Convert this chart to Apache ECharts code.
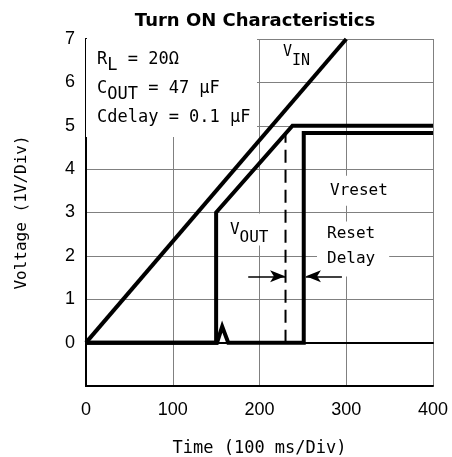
<!DOCTYPE html>
<html>
<head>
<meta charset="utf-8">
<script src="https://cdn.jsdelivr.net/npm/echarts@6/dist/echarts.min.js"></script>
<style>
html,body{margin:0;padding:0;background:#fff;}
#chart{width:452px;height:457px;}
</style>
</head>
<body>
<div id="chart"></div>
<script>
// ---- data ----
const xTicks = [0, 100, 200, 300, 400];
const yTicks = [0, 1, 2, 3, 4, 5, 6, 7];
const vinPts = [[0, 0], [300, 7]];
const voutPts = [[0, 0], [150, 0], [150, 3], [238, 5], [400, 5]];
const vresetPts = [[0, 0], [151, 0], [157, 0.37], [164, 0], [251, 0], [251, 4.83], [400, 4.83]];
const delayMarkerPts = [[230, 0], [230, 4.8]];
const arrowLeft = [[187, 1.53], [229.5, 1.53]];
const arrowRight = [[295, 1.53], [253.5, 1.53]];

const MONO = '"DejaVu Sans Mono", monospace';
const SANS = '"Liberation Sans", Arial, sans-serif';
const chart = echarts.init(document.getElementById('chart'), null, {renderer: 'canvas'});

const blackLine = {color: '#000', width: 4, join: 'miter', cap: 'butt'};
function lineSeries(name, pts) {
  return {
    name: name, type: 'line', data: pts, symbol: 'none', z: 3,
    lineStyle: blackLine, animation: false, silent: true
  };
}
const hiddenAxis = {
  min: 0, max: 400, interval: 100,
  axisLine: {show: true, lineStyle: {color: '#000', width: 2}},
  axisTick: {show: false}, axisLabel: {show: false}, splitLine: {show: false}
};

const option = {
  animation: false,
  backgroundColor: '#fff',
  title: {
    text: 'Turn ON Characteristics',
    left: 250, textAlign: 'center', top: 7,
    textStyle: {fontFamily: '"DejaVu Sans", sans-serif', fontWeight: 'bold', fontSize: 18, color: '#000'}
  },
  grid: {left: 86, right: 19, top: 39, bottom: 71, containLabel: false, outerBoundsMode: 'none'},
  xAxis: [{
    type: 'value', min: 0, max: 400, interval: 100,
    name: 'Time (100 ms/Div)', nameLocation: 'middle', nameGap: 54,
    nameTextStyle: {fontFamily: MONO, fontSize: 17, color: '#000'},
    axisLine: {show: true, onZero: false, lineStyle: {color: '#000', width: 2}},
    axisTick: {show: false},
    axisLabel: {fontFamily: SANS, fontSize: 18, color: '#000', margin: 15,
      formatter: v => xTicks.includes(v) ? String(v) : ''},
    splitLine: {show: true, lineStyle: {color: '#808080', width: 1}}
  }, Object.assign({position: 'top'}, hiddenAxis)],
  yAxis: [{
    type: 'value', min: -1, max: 7, interval: 1,
    name: 'Voltage (1V/Div)', nameLocation: 'middle', nameGap: 56, nameRotate: 90,
    nameTextStyle: {fontFamily: MONO, fontSize: 16, color: '#000'},
    axisLine: {show: true, onZero: false, lineStyle: {color: '#000', width: 2}},
    axisTick: {show: false},
    axisLabel: {fontFamily: SANS, fontSize: 18, color: '#000', margin: 11,
      formatter: v => yTicks.includes(v) ? String(v) : ''},
    splitLine: {show: true, lineStyle: {color: '#808080', width: 1}}
  }, Object.assign({position: 'right'}, hiddenAxis, {min: -1, max: 7, interval: 1})],
  series: [
    // text annotations with white boxes
    {
      type: 'scatter', symbolSize: 0, clip: false, z: 1, silent: true,
      itemStyle: {opacity: 1},
      emphasis: {disabled: true},
      data: [
        {value: [0, 7], label: {
          show: true, position: [0, 0], align: 'left', verticalAlign: 'top', opacity: 1,
          backgroundColor: '#fff', padding: [6, 4, 12, 11], width: 156, height: 80,
          formatter: '{m|R}{s|L}{m| = 20Ω}\n{m|C}{s|OUT}{m| = 47 μF}\n{m|Cdelay = 0.1 μF}',
          rich: {
            m: {fontFamily: MONO, fontSize: 17, lineHeight: 29, color: '#000'},
            s: {fontFamily: MONO, fontSize: 17, lineHeight: 17, verticalAlign: 'bottom', color: '#000'}
          }
        }},
        {value: [227, 6.7], label: {
          show: true, position: [0, 0], align: 'left', verticalAlign: 'middle', opacity: 1,
          formatter: '{m|V}{s|IN}',
          rich: {
            m: {fontFamily: MONO, fontSize: 15, lineHeight: 34, color: '#000'},
            s: {fontFamily: MONO, fontSize: 15, lineHeight: 14, verticalAlign: 'bottom', color: '#000'}
          }
        }},
        {value: [162.5, 2.61], label: {
          show: true, position: [0, 0], align: 'left', verticalAlign: 'middle', opacity: 1,
          backgroundColor: '#fff', padding: [0, 3, 0, 3],
          formatter: '{m|V}{s|OUT}',
          rich: {
            m: {fontFamily: MONO, fontSize: 16, lineHeight: 32, color: '#000'},
            s: {fontFamily: MONO, fontSize: 16, lineHeight: 16, verticalAlign: 'bottom', color: '#000'}
          }
        }},
        {value: [276.7, 3.5], label: {
          show: true, position: [0, 0], align: 'left', verticalAlign: 'middle', opacity: 1,
          backgroundColor: '#fff', padding: [0, 4, 8, 4],
          formatter: 'Vreset',
          fontFamily: MONO, fontSize: 16, lineHeight: 22, color: '#000'
        }},
        {value: [266.3, 2.79], label: {
          show: true, position: [0, 0], align: 'left', verticalAlign: 'top', opacity: 1,
          backgroundColor: '#fff', padding: [0, 14, 6, 10],
          formatter: 'Reset\nDelay',
          fontFamily: MONO, fontSize: 16, lineHeight: 24.5, color: '#000'
        }}
      ]
    },
    lineSeries('VIN', vinPts),
    lineSeries('VOUT', voutPts),
    lineSeries('Vreset', vresetPts),
    {
      name: 'delay', type: 'line', data: delayMarkerPts, symbol: 'none', z: 3, silent: true,
      lineStyle: {color: '#000', width: 2, type: [13, 7]}
    },
    {
      name: 'arrows', type: 'line', data: [], symbol: 'none', z: 3, silent: true,
      markLine: {
        silent: true, animation: false,
        symbol: ['none', 'arrow'], symbolSize: [9, 15],
        label: {show: false},
        lineStyle: {color: '#000', width: 1.5, type: 'solid'},
        data: [
          [{coord: arrowLeft[0]}, {coord: arrowLeft[1]}],
          [{coord: arrowRight[0]}, {coord: arrowRight[1]}]
        ]
      }
    }
  ]
};
chart.setOption(option);
</script>
</body>
</html>
